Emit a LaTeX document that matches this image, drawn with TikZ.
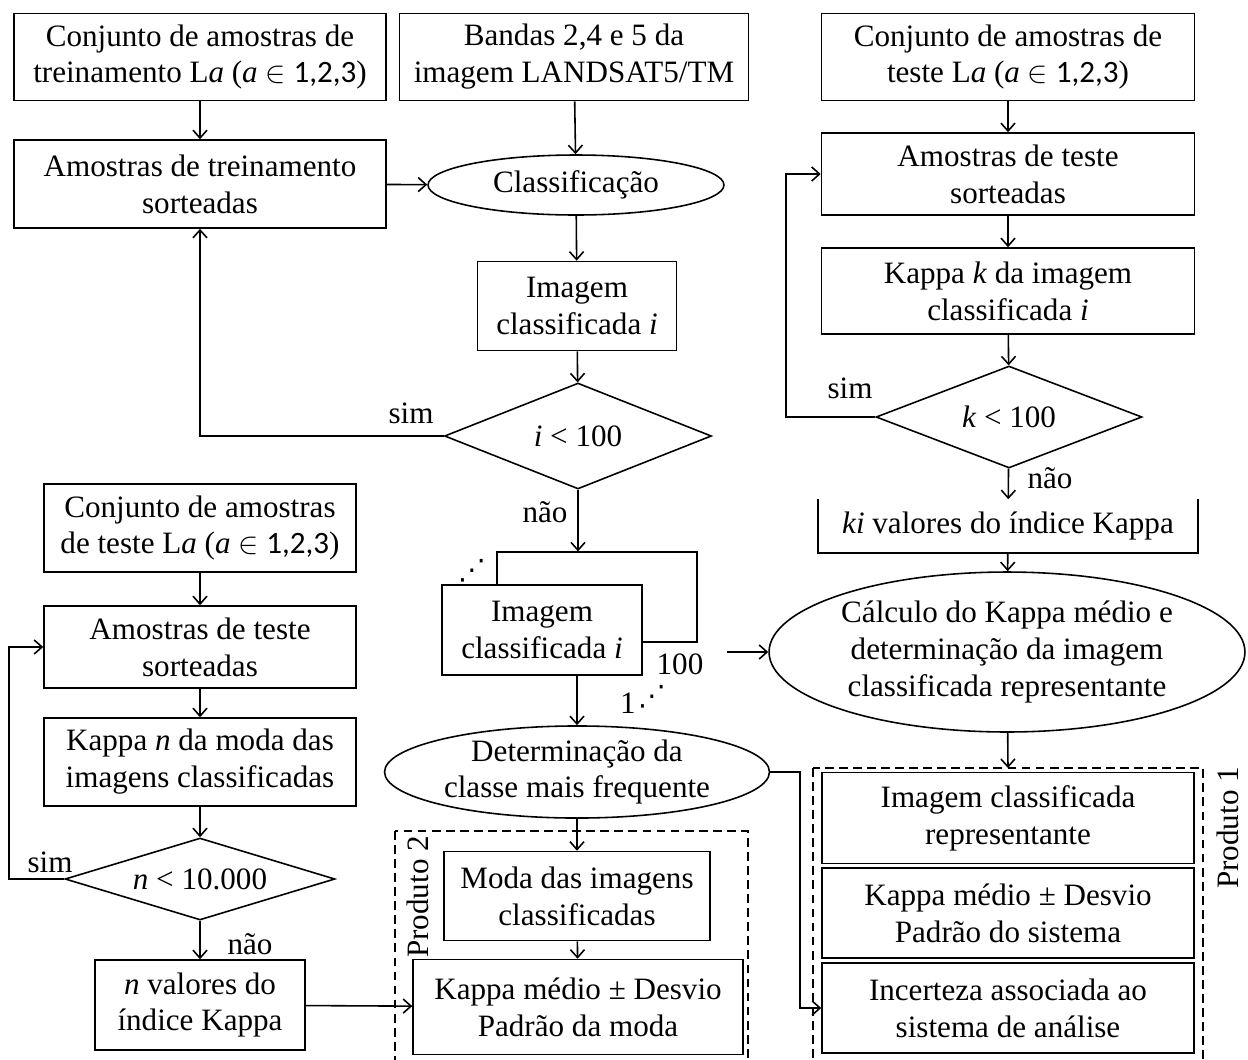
\documentclass[tikz,border=0pt]{standalone}
\usepackage{fontspec}
\setmainfont{Liberation Serif}
\newfontfamily\calfont{Carlito}
\newfontfamily\symfont{DejaVu Sans}
\usepackage{tikz}
\usetikzlibrary{shapes, arrows, arrows.meta, positioning, calc}

\newcommand{\setLa}{L\textit{a} (\textit{a} $\in$ {\calfont 1,2,3})}

\begin{document}
\begin{tikzpicture}[>={Straight Barb[length=4.5pt,width=8pt]}, x=0.02cm, y=-0.02cm, line width=0.9pt,
        every node/.style={font=\fontsize{17.7}{21}\selectfont},
        box/.style={draw, rectangle, align=center, inner sep=2pt},
        oval/.style={draw, ellipse, align=center, inner sep=0pt},
        decide/.style={draw, diamond, align=center, inner sep=0pt},
        produto/.style={draw, dash pattern=on 5pt off 3pt, line width=0.8pt}]
        \useasboundingbox (0,0) rectangle (1248,1059);

        % top row
        \node[box, minimum width=7.44cm, minimum height=1.74cm] (conjTrein) at (200,57) {Conjunto de amostras de\\treinamento \setLa};
        \node[box, minimum width=6.98cm, minimum height=1.74cm] (bandas) at (574,57) {Bandas 2,4 e 5 da\\imagem LANDSAT5/TM};
        \node[box, minimum width=7.46cm, minimum height=1.74cm] (conjTeste) at (1008,57) {Conjunto de amostras de\\teste \setLa};

        % left loop
        \node[box, minimum width=7.44cm, minimum height=1.76cm] (amTrein) at (200,184) {Amostras de treinamento\\sorteadas};
        \node[oval, minimum width=5.92cm, minimum height=1.2cm] (classif) at (576,185) {Classificação};
        \node[box, minimum width=3.98cm, minimum height=1.78cm] (imgClass) at (577,306) {Imagem\\classificada \textit{i}};
        \node[decide, aspect=2.5, minimum width=5.34cm, minimum height=2.12cm] (decI) at (578,436) {\textit{i} < 100};
        \node (simI) at (411,413) {sim};
        \node (naoI) at (545,512) {não};

        % right loop
        \node[box, minimum width=7.46cm, minimum height=1.64cm] (amTeste) at (1008,174) {Amostras de teste\\sorteadas};
        \node[box, minimum width=7.46cm, minimum height=1.72cm] (kappaK) at (1008,291) {Kappa \textit{k} da imagem\\classificada \textit{i}};
        \node[decide, aspect=2.6, minimum width=5.32cm, minimum height=2.04cm] (decK) at (1009,417) {\textit{k} < 100};
        \node (simK) at (850,388) {sim};
        \node (naoK) at (1050,478) {não};
        \node[minimum width=7.56cm, minimum height=1.04cm] (kiVal) at (1008,526) {\textit{ki} valores do índice Kappa};
        \draw (kiVal.north west) -- (kiVal.south west) -- (kiVal.south east) -- (kiVal.north east);
        \node[oval, minimum width=9.52cm, minimum height=3.2cm] (calc) at (1007,652) {Cálculo do Kappa médio e\\determinação da imagem\\classificada representante};

        % stack of images
        \node[box, line width=0.7pt, minimum width=4cm, minimum height=1.8cm] (imgBack) at (597,597) {};
        \node[box, fill=white, minimum width=4cm, minimum height=1.8cm] (imgFront) at (542,630) {Imagem\\classificada \textit{i}};
        \node (dotsUp) at (472,571) {\symfont\fontsize{16}{16}\selectfont ⋰};
        \node (dotsLow) at (652,697) {\symfont\fontsize{16}{16}\selectfont ⋰};
        \node (lab100) at (680,664) {100};
        \node (lab1) at (628,703) {1};
        \coordinate (stackOut) at (727,652);

        \node[oval, minimum width=7.7cm, minimum height=1.84cm] (det) at (577,772) {Determinação da\\classe mais frequente};
        \node[box, minimum width=5.32cm, minimum height=1.78cm] (moda) at (577,896) {Moda das imagens\\classificadas};
        \node[box, minimum width=6.6cm, minimum height=1.9cm] (kMod) at (578,1007) {Kappa médio ± Desvio\\Padrão da moda};

        % lower left loop
        \node[box, minimum width=6.24cm, minimum height=1.76cm] (conjTeste2) at (200,528) {Conjunto de amostras\\de teste \setLa};
        \node[box, minimum width=6.24cm, minimum height=1.64cm] (amTeste2) at (200,647) {Amostras de teste\\sorteadas};
        \node[box, minimum width=6.24cm, minimum height=1.76cm] (kappaN) at (200,762) {Kappa \textit{n} da moda das\\imagens classificadas};
        \node[decide, aspect=3.3, minimum width=5.4cm, minimum height=1.64cm] (decN) at (200,879) {\textit{n} < 10.000};
        \node (simN) at (50,862) {sim};
        \node (naoN) at (250,944) {não};
        \node[box, minimum width=4.2cm, minimum height=1.8cm] (nVal) at (200,1005) {\textit{n} valores do\\índice Kappa};

        % produto 1
        \node[box, minimum width=7.44cm, minimum height=1.82cm] (repres) at (1008,818) {Imagem classificada\\representante};
        \node[box, minimum width=7.44cm, minimum height=1.8cm] (kSist) at (1008,913) {Kappa médio ± Desvio\\Padrão do sistema};
        \node[box, minimum width=7.44cm, minimum height=1.8cm] (incert) at (1008,1008) {Incerteza associada ao\\sistema de análise};
        \coordinate (p1top) at (1008,768);
        \draw[produto] (813,768) rectangle (1203,1070);
        \node[rotate=90] (prod1) at (1228,828) {Produto 1};
        \draw[produto] (395,831) rectangle (748,1070);
        \node[rotate=90] (prod2) at (418,897) {Produto 2};

        % connectors
        \draw[->] (conjTrein) -- (amTrein);
        \draw[->] (bandas) -- (classif);
        \draw[->] (amTrein) -- (classif);
        \draw[->] (classif) -- (imgClass);
        \draw[->] (imgClass) -- (decI);
        \draw[->] (decI.west) -| (amTrein.south);
        \draw[->] (decI.south) -- (decI.south |- imgBack.north);
        \draw[->] (det.north |- imgFront.south) -- (det.north);
        \draw[->] (stackOut) -- (calc.west);
        \draw[->] (det) -- (moda);
        \draw[->] (moda) -- (kMod);
        \draw[->] (det.east) -- ++(30,0) |- (incert.west);
        \draw[->] (conjTeste) -- (amTeste);
        \draw[->] (amTeste) -- (kappaK);
        \draw[->] (kappaK) -- (decK);
        \draw[->] (decK.west) -- ++(-89,0) |- (amTeste.west);
        \draw[->] (decK) -- (kiVal);
        \draw[->] (kiVal) -- (calc);
        \draw[->] (calc) -- (p1top);
        \draw[->] (conjTeste2) -- (amTeste2);
        \draw[->] (amTeste2) -- (kappaN);
        \draw[->] (kappaN) -- (decN);
        \draw[->] (decN.west) -- ++(-55,0) |- (amTeste2.west);
        \draw[->] (decN) -- (nVal);
        \draw[->] (nVal) -- (kMod);
\end{tikzpicture}
\end{document}
